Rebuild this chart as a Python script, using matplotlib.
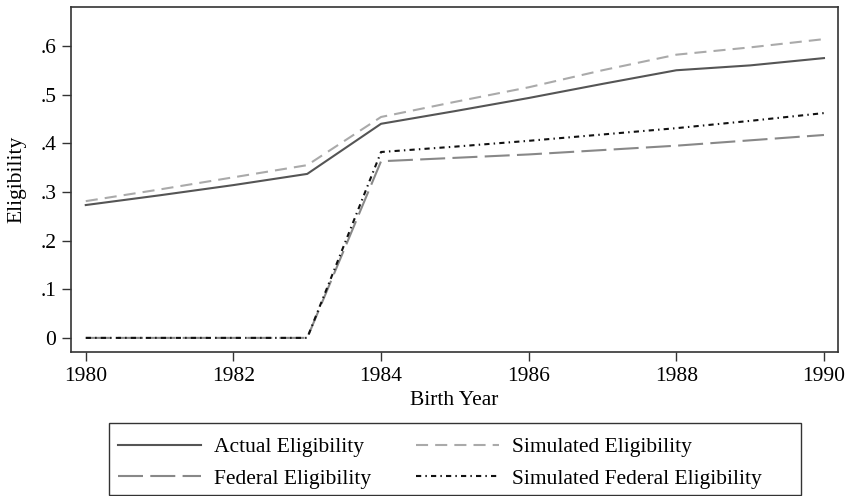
import matplotlib
matplotlib.use('Agg')
import matplotlib.pyplot as plt
from matplotlib.patches import Rectangle

# data
years = [1980, 1981, 1982, 1983, 1984, 1985, 1986, 1987, 1988, 1989, 1990]
actual = [0.273, 0.293, 0.314, 0.337, 0.440, 0.466, 0.493, 0.522, 0.550, 0.560, 0.575]
simulated = [0.281, 0.305, 0.330, 0.355, 0.454, 0.485, 0.515, 0.550, 0.582, 0.597, 0.614]
federal = [0.0, 0.0, 0.0, 0.0, 0.363, 0.370, 0.377, 0.386, 0.395, 0.406, 0.417]
sim_federal = [0.0, 0.0, 0.0, 0.0, 0.382, 0.393, 0.405, 0.418, 0.431, 0.446, 0.462]

yticks = [0, 0.1, 0.2, 0.3, 0.4, 0.5, 0.6]
ytick_labels = ['0', '.1', '.2', '.3', '.4', '.5', '.6']
xticks = [1980, 1982, 1984, 1986, 1988, 1990]

plt.rcParams['font.family'] = ['Liberation Serif', 'DejaVu Serif']
plt.rcParams['font.size'] = 15.5

W, H = 848, 496
fig = plt.figure(figsize=(W / 100, H / 100), dpi=100)
ax = fig.add_axes([71 / W, 1 - 352 / H, 767 / W, 345 / H])

ax.plot(years, actual, color='#555555', lw=1.5, ls='-', label='Actual Eligibility')
ax.plot(years, federal, color='#888888', lw=1.5, ls=(0, (12, 3.5)), label='Federal Eligibility')
ax.plot(years, simulated, color='#aaaaaa', lw=1.5, ls=(0, (5.8, 3.4)), label='Simulated Eligibility')
ax.plot(years, sim_federal, color='#111111', lw=1.5, ls=(0, (2.5, 2, 0.7, 2)),
        label='Simulated Federal Eligibility')

ax.set_xlim(1979.8, 1990.19)
ax.set_ylim(-0.029, 0.68)
ax.set_xticks(xticks)
ax.set_yticks(yticks)
ax.set_yticklabels(ytick_labels)
ax.tick_params(direction='out', length=6.5, width=1, color='#333333', pad=4)
for s in ax.spines.values():
    s.set_color('#333333')
    s.set_linewidth(1.2)

ax.set_xlabel('Birth Year', labelpad=4)
ax.set_ylabel('Eligibility', labelpad=10)

# legend: entries without frame, frame drawn separately (Stata style, wider on the right)
h, l = ax.get_legend_handles_labels()
leg = fig.legend(h, l, ncol=2, loc='upper left',
                 bbox_to_anchor=(118 / W, 1 - 437 / H),
                 frameon=False, handlelength=3.85, columnspacing=2.1,
                 borderpad=0, borderaxespad=0, labelspacing=0.55, handletextpad=0.6)
fig.patches.append(Rectangle((109 / W, 1 - 495 / H), 692 / W, 72 / H,
                             transform=fig.transFigure, fill=False,
                             edgecolor='#333333', linewidth=1.0))

fig.savefig('out.png', dpi=100)
